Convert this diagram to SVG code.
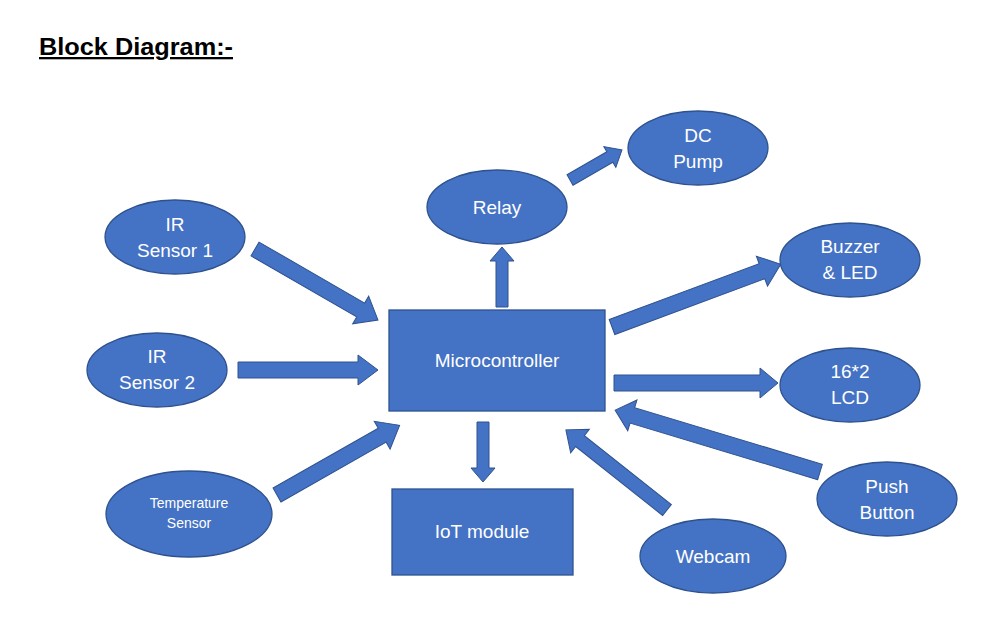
<svg xmlns="http://www.w3.org/2000/svg" width="1002" height="622" viewBox="0 0 1002 622">
<style>
.n{fill:#4472C4;stroke:#2F528F;stroke-width:1.3}
.a{fill:#4472C4;stroke:#2F528F;stroke-width:1}
.t{font-family:"Liberation Sans",Arial,sans-serif;font-size:19px;fill:#fff;text-anchor:middle}
.s{font-size:14px}
.ttl{font-family:"Liberation Sans",Arial,sans-serif;font-size:23px;font-weight:bold;fill:#000;text-decoration:underline}
</style>
<rect width="1002" height="622" fill="#fff"/>
<text class="ttl" x="39" y="55" textLength="194" lengthAdjust="spacingAndGlyphs">Block Diagram:-</text>
<g id="connectors">
<path class="a" transform="translate(255,249) rotate(30)" d="M0,-8 H122 V-16 L142,0 L122,16 V8 H0 Z"/>
<path class="a" transform="translate(238,370) rotate(0)" d="M0,-8 H120 V-15 L140,0 L120,15 V8 H0 Z"/>
<path class="a" transform="translate(277,495) rotate(-29.6)" d="M0,-8 H121 V-16 L141,0 L121,16 V8 H0 Z"/>
<path class="a" transform="translate(502,307) rotate(-90)" d="M0,-6 H46 V-12 L60,0 L46,12 V6 H0 Z"/>
<path class="a" transform="translate(570,180) rotate(-30)" d="M0,-6 H46 V-12 L60,0 L46,12 V6 H0 Z"/>
<path class="a" transform="translate(612,327) rotate(-20.4)" d="M0,-8 H160 V-16 L180,0 L160,16 V8 H0 Z"/>
<path class="a" transform="translate(614,383) rotate(0)" d="M0,-8 H146 V-15 L164,0 L146,15 V8 H0 Z"/>
<path class="a" transform="translate(483,422) rotate(90)" d="M0,-6 H46 V-12 L60,0 L46,12 V6 H0 Z"/>
<path class="a" transform="translate(667,510) rotate(-141.6)" d="M0,-7 H111 V-15 L129,0 L111,15 V7 H0 Z"/>
<path class="a" transform="translate(820,472) rotate(-163.2)" d="M0,-8 H196 V-16 L214,0 L196,16 V8 H0 Z"/>
</g>
<g id="ir1"><ellipse class="n" cx="175" cy="237" rx="70" ry="37"/><text class="t" x="175" y="231">IR</text><text class="t" x="175" y="257">Sensor 1</text></g>
<g id="ir2"><ellipse class="n" cx="157" cy="370" rx="70" ry="37"/><text class="t" x="157" y="363">IR</text><text class="t" x="157" y="389">Sensor 2</text></g>
<g id="temp"><ellipse class="n" cx="189" cy="514" rx="83" ry="43"/><text class="t s" x="189" y="508">Temperature</text><text class="t s" x="189" y="528">Sensor</text></g>
<g id="relay"><ellipse class="n" cx="497" cy="207" rx="70" ry="37"/><text class="t" x="497" y="214">Relay</text></g>
<g id="pump"><ellipse class="n" cx="698" cy="148" rx="70" ry="37"/><text class="t" x="698" y="142">DC</text><text class="t" x="698" y="168">Pump</text></g>
<g id="buzzer"><ellipse class="n" cx="850" cy="260" rx="70" ry="37"/><text class="t" x="850" y="253">Buzzer</text><text class="t" x="850" y="279">&amp; LED</text></g>
<g id="lcd"><ellipse class="n" cx="850" cy="385" rx="70" ry="37"/><text class="t" x="850" y="378">16*2</text><text class="t" x="850" y="404">LCD</text></g>
<g id="push"><ellipse class="n" cx="887" cy="499" rx="70" ry="37"/><text class="t" x="887" y="493">Push</text><text class="t" x="887" y="519">Button</text></g>
<g id="webcam"><ellipse class="n" cx="713" cy="556" rx="73" ry="37"/><text class="t" x="713" y="563">Webcam</text></g>
<g id="mcu"><rect class="n" x="389" y="310" width="216" height="101"/><text class="t" x="497" y="367">Microcontroller</text></g>
<g id="iot"><rect class="n" x="392" y="489" width="181" height="86"/><text class="t" x="482" y="538">IoT module</text></g>
</svg>
